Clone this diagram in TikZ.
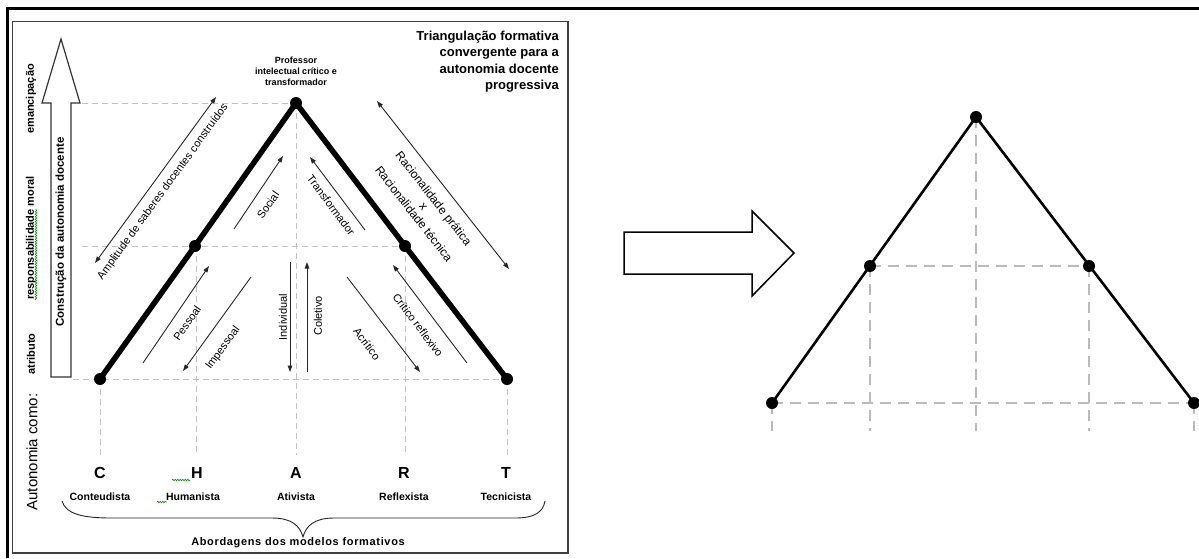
\documentclass[tikz,border=0pt]{standalone}
\usepackage{fontspec}
\setmainfont{Liberation Sans}
\usetikzlibrary{arrows.meta,decorations.pathmorphing}
\newcommand{\fsz}[2]{\fontsize{#1}{#2}\selectfont}
\begin{document}
\begin{tikzpicture}[x=1pt,y=-1pt,
  tritri/.style={line width=5.5pt, line cap=round, line join=round},
  gdash/.style={draw=black!24, line width=1pt, dash pattern=on 6pt off 4pt},
  rgdash/.style={draw=black!27, line width=2.6pt, dash pattern=on 11pt off 7pt},
  dot/.style={circle, fill=black, inner sep=0pt, minimum size=12pt},
  rdot/.style={circle, fill=black, inner sep=0pt, minimum size=12pt},
  thinarr/.style={line width=0.9pt, draw=black!85, -{Triangle[length=6.5pt,width=4.5pt]}},
  dblarr/.style={line width=0.9pt, draw=black!85, {Triangle[length=6.5pt,width=4.5pt]}-{Triangle[length=6.5pt,width=4.5pt]}},
  lab/.style={font=\fsz{11}{13}, inner sep=0pt},
  sidelab/.style={font=\bfseries\fsz{11}{13}, inner sep=0pt, rotate=90},
  letter/.style={font=\bfseries\fsz{16}{18}, inner sep=0pt},
  model/.style={font=\bfseries\fsz{10.5}{12}, inner sep=0pt},
  squig/.style={draw=green!55!black, line width=0.6pt, decorate, decoration={snake, amplitude=0.8pt, segment length=2.5pt}}
]
\useasboundingbox (0,0) rectangle (1199,558);

% frames
\coordinate (o1) at (7,8.5);
\coordinate (o2) at (1199,8.5);
\coordinate (o3) at (7,558);
\draw[line width=3pt] (o3) -- (o1) -- (o2);
\draw[line width=1.5pt, black!75] (12.5,21.5) rectangle (568,553);

% vertical big arrow
\draw[line width=1.2pt, black!80, line join=miter, fill=white]
  (51,377) -- (51,103) -- (42,103) -- (61,39) -- (80,103) -- (71,103) -- (71,377) -- cycle;
\node[rotate=90, font=\bfseries\fsz{11.5}{13}, inner sep=0pt] (constr) at (61,232) {Construção da autonomia docente};

% side labels
\node[sidelab] (emanc) at (31,99) {emancipação};
\node[sidelab] (resp) at (31,238) {responsabilidade moral};
\node[sidelab] (atrib) at (31,354) {atributo};
\node[rotate=90, font=\fsz{15}{17}, inner sep=0pt] (autcomo) at (32,452) {Autonomia como:};
\coordinate (sq1a) at (36,300); \coordinate (sq1b) at (36,209);
\draw[squig] (sq1a) -- (sq1b);

% main points
\coordinate (pC) at (100,379);
\coordinate (pH) at (195,246);
\coordinate (pA) at (296,103);
\coordinate (pR) at (405,246);
\coordinate (pT) at (507,379);

% dashed guides
\coordinate (g1) at (82,103);
\coordinate (g2) at (82,246);
\coordinate (g3) at (73,379);
\draw[gdash] (g1) -- (pA);
\draw[gdash] (g2) -- (pR);
\draw[gdash] (g3) -- (pT);
\coordinate (vC) at (100,455);
\coordinate (vH1) at (196,246);
\coordinate (vH) at (196,455);
\coordinate (vA) at (296,455);
\coordinate (vR) at (405,455);
\coordinate (vT) at (507,455);
\draw[gdash] (pC) -- (vC);
\draw[gdash] (vH1) -- (vH);
\draw[gdash] (pA) -- (vA);
\draw[gdash] (pR) -- (vR);
\draw[gdash] (pT) -- (vT);

% thick triangle
\draw[tritri] (pC) -- (pH) -- (pA) -- (pR) -- (pT);
\node[dot] (dC) at (pC) {};
\node[dot] (dH) at (pH) {};
\node[dot] (dA) at (pA) {};
\node[dot] (dR) at (pR) {};
\node[dot] (dT) at (pT) {};

% top labels
\node[align=center, font=\bfseries\fsz{9}{11}, inner sep=0pt] (prof) at (296,71) {Professor\\intelectual crítico e\\transformador};
\node[anchor=north east, align=right, font=\bfseries\fsz{13}{16.3}, inner sep=0pt] (title) at (559,31) {Triangulação formativa\\convergente para a\\autonomia docente\\progressiva};

% arrows
\coordinate (am1) at (95,263); \coordinate (am2) at (216,97);
\draw[dblarr] (am1) -- (am2);
\node[lab, rotate=54] (amlab) at (163,192) {Amplitude de saberes docentes construídos};

\coordinate (so1) at (234,229); \coordinate (so2) at (283,156);
\draw[thinarr] (so1) -- (so2);
\node[lab, rotate=55] (solab) at (268,205) {Social};

\coordinate (pe1) at (143,363); \coordinate (pe2) at (209,266);
\draw[thinarr] (pe1) -- (pe2);
\node[lab, rotate=55] (pelab) at (187,323) {Pessoal};

\coordinate (im1) at (251,277); \coordinate (im2) at (183,371);
\draw[thinarr] (im1) -- (im2);
\node[lab, rotate=54] (imlab) at (223,348) {Impessoal};

\coordinate (in1) at (290,262); \coordinate (in2) at (290,372);
\draw[thinarr] (in1) -- (in2);
\node[lab, rotate=90] (inlab) at (283,317) {Individual};

\coordinate (co1) at (307,372); \coordinate (co2) at (307,262);
\draw[thinarr] (co1) -- (co2);
\node[lab, rotate=90] (colab) at (318,316) {Coletivo};

\coordinate (tr1) at (365,230); \coordinate (tr2) at (310,157);
\draw[thinarr] (tr1) -- (tr2);
\node[lab, rotate=-53] (trlab) at (331,205) {Transformador};

\coordinate (cr1) at (467,363); \coordinate (cr2) at (393,265);
\draw[thinarr] (cr1) -- (cr2);
\node[lab, rotate=-53] (crlab) at (418,325) {Crítico reflexivo};

\coordinate (ac1) at (347,277); \coordinate (ac2) at (420,372);
\draw[thinarr] (ac1) -- (ac2);
\node[lab, rotate=-53] (aclab) at (367,344) {Acrítico};

\coordinate (ra1) at (377,101); \coordinate (ra2) at (509,269);
\draw[dblarr] (ra1) -- (ra2);
\node[rotate=-52, align=center, font=\fsz{12}{12.5}, inner sep=0pt] (ralab) at (424,206) {Racionalidade prática\\x\\Racionalidade técnica};

% letters and models
\node[letter] (LC) at (100,473) {C};
\node[letter] (LH) at (197,473) {H};
\node[letter] (LA) at (296,473) {A};
\node[letter] (LR) at (404,473) {R};
\node[letter] (LT) at (506,473) {T};
\node[model] (NC) at (100,497) {Conteudista};
\node[model] (NH) at (193,497) {Humanista};
\node[model] (NA) at (296,497) {Ativista};
\node[model] (NR) at (404,497) {Reflexista};
\node[model] (NT) at (506,497) {Tecnicista};
\coordinate (sq2a) at (172,480); \coordinate (sq2b) at (190,480);
\draw[squig] (sq2a) -- (sq2b);
\coordinate (sq3a) at (157,502); \coordinate (sq3b) at (167,502);
\draw[squig] (sq3a) -- (sq3b);

% brace
\coordinate (brL) at (62,501);
\coordinate (brM) at (303,537);
\coordinate (brR) at (545,501);
\draw[line width=0.9pt, black!85] (brL) .. controls (66,514) and (82,518) .. (112,518) -- (272,518)
  .. controls (292,518) and (300,526) .. (brM)
  .. controls (306,526) and (314,518) .. (334,518) -- (515,518)
  .. controls (535,518) and (543,512) .. (brR);
\node[font=\bfseries\fsz{11}{13}\addfontfeature{LetterSpace=6}, inner sep=0pt] (abord) at (298,543) {Abordagens dos modelos formativos};

% block arrow right
\draw[line width=1.5pt, line join=miter]
  (624,232) -- (752,232) -- (752,211) -- (794,253) -- (752,296) -- (752,274) -- (624,274) -- cycle;

% right triangle
\coordinate (rBL) at (772,403);
\coordinate (rML) at (870,266);
\coordinate (rTop) at (976,117);
\coordinate (rMR) at (1089,266);
\coordinate (rBR) at (1194,403);
\coordinate (rv1) at (772,431);
\coordinate (rv2) at (870,431);
\coordinate (rv3) at (976,431);
\coordinate (rv4) at (1089,431);
\coordinate (rv5) at (1194,431);
\draw[rgdash] (rBL) -- (rBR);
\draw[rgdash] (rML) -- (rMR);
\draw[rgdash] (rBL) -- (rv1);
\draw[rgdash] (rML) -- (rv2);
\draw[rgdash] (rTop) -- (rv3);
\draw[rgdash] (rMR) -- (rv4);
\draw[rgdash] (rBR) -- (rv5);
\draw[line width=2.6pt, line join=round] (rBL) -- (rTop) -- (rBR);
\node[rdot] (drBL) at (rBL) {};
\node[rdot] (drML) at (rML) {};
\node[rdot] (drTop) at (rTop) {};
\node[rdot] (drMR) at (rMR) {};
\node[rdot] (drBR) at (rBR) {};
\end{tikzpicture}
\end{document}
